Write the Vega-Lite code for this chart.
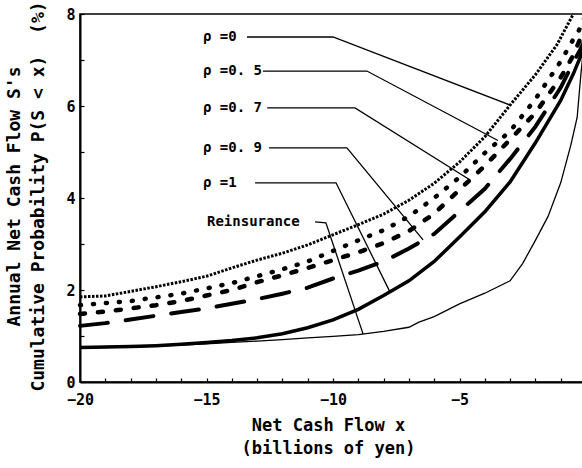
{
  "$schema": "https://vega.github.io/schema/vega-lite/v6.json",
  "autosize": "none",
  "padding": {"left": 80, "top": 14, "right": 0, "bottom": 86},
  "width": 506,
  "height": 368,
  "background": "white",
  "config": {
    "view": {"stroke": "black", "strokeWidth": 1.5},
    "font": "DejaVu Sans Mono"
  },
  "datasets": {
    "curves": [
      {"series": "r0", "x": -20, "y": 1.85}, {"series": "r0", "x": -19, "y": 1.87}, {"series": "r0", "x": -18, "y": 1.97}, {"series": "r0", "x": -17, "y": 2.07}, {"series": "r0", "x": -16, "y": 2.18}, {"series": "r0", "x": -15, "y": 2.3}, {"series": "r0", "x": -14, "y": 2.48}, {"series": "r0", "x": -13, "y": 2.65}, {"series": "r0", "x": -12, "y": 2.8}, {"series": "r0", "x": -11, "y": 2.98}, {"series": "r0", "x": -10, "y": 3.2}, {"series": "r0", "x": -9, "y": 3.42}, {"series": "r0", "x": -8, "y": 3.65}, {"series": "r0", "x": -7, "y": 3.95}, {"series": "r0", "x": -6, "y": 4.32}, {"series": "r0", "x": -5, "y": 4.78}, {"series": "r0", "x": -4, "y": 5.33}, {"series": "r0", "x": -3, "y": 6.02}, {"series": "r0", "x": -2, "y": 6.68}, {"series": "r0", "x": -1.15, "y": 7.33}, {"series": "r0", "x": -0.5, "y": 8.0},
      {"series": "r05", "x": -20, "y": 1.67}, {"series": "r05", "x": -18, "y": 1.76}, {"series": "r05", "x": -16, "y": 1.92}, {"series": "r05", "x": -14, "y": 2.15}, {"series": "r05", "x": -13, "y": 2.3}, {"series": "r05", "x": -12, "y": 2.45}, {"series": "r05", "x": -11, "y": 2.62}, {"series": "r05", "x": -10, "y": 2.85}, {"series": "r05", "x": -9, "y": 3.08}, {"series": "r05", "x": -8, "y": 3.3}, {"series": "r05", "x": -7, "y": 3.6}, {"series": "r05", "x": -6, "y": 4.0}, {"series": "r05", "x": -5, "y": 4.45}, {"series": "r05", "x": -4, "y": 4.98}, {"series": "r05", "x": -3, "y": 5.45}, {"series": "r05", "x": -2, "y": 6.15}, {"series": "r05", "x": -1, "y": 6.97}, {"series": "r05", "x": -0.5, "y": 7.45}, {"series": "r05", "x": -0.3, "y": 7.62}, {"series": "r05", "x": 0, "y": 8.0},
      {"series": "r07", "x": -20, "y": 1.48}, {"series": "r07", "x": -19, "y": 1.53}, {"series": "r07", "x": -18, "y": 1.6}, {"series": "r07", "x": -17, "y": 1.67}, {"series": "r07", "x": -16, "y": 1.76}, {"series": "r07", "x": -15, "y": 1.88}, {"series": "r07", "x": -14, "y": 2.0}, {"series": "r07", "x": -13, "y": 2.17}, {"series": "r07", "x": -12, "y": 2.32}, {"series": "r07", "x": -11, "y": 2.48}, {"series": "r07", "x": -10, "y": 2.65}, {"series": "r07", "x": -9, "y": 2.82}, {"series": "r07", "x": -8, "y": 3.02}, {"series": "r07", "x": -7, "y": 3.28}, {"series": "r07", "x": -6, "y": 3.66}, {"series": "r07", "x": -5, "y": 4.18}, {"series": "r07", "x": -4, "y": 4.7}, {"series": "r07", "x": -3, "y": 5.27}, {"series": "r07", "x": -2, "y": 5.85}, {"series": "r07", "x": -1, "y": 6.62}, {"series": "r07", "x": -0.5, "y": 7.1}, {"series": "r07", "x": -0.2, "y": 7.5}, {"series": "r07", "x": 0, "y": 7.8},
      {"series": "r09", "x": -20, "y": 1.22}, {"series": "r09", "x": -19, "y": 1.28}, {"series": "r09", "x": -18, "y": 1.36}, {"series": "r09", "x": -17, "y": 1.44}, {"series": "r09", "x": -16, "y": 1.52}, {"series": "r09", "x": -15, "y": 1.6}, {"series": "r09", "x": -14, "y": 1.7}, {"series": "r09", "x": -13, "y": 1.8}, {"series": "r09", "x": -12, "y": 1.92}, {"series": "r09", "x": -11, "y": 2.05}, {"series": "r09", "x": -10, "y": 2.25}, {"series": "r09", "x": -9, "y": 2.42}, {"series": "r09", "x": -8, "y": 2.62}, {"series": "r09", "x": -7, "y": 2.9}, {"series": "r09", "x": -6, "y": 3.22}, {"series": "r09", "x": -5, "y": 3.71}, {"series": "r09", "x": -4, "y": 4.2}, {"series": "r09", "x": -3, "y": 4.85}, {"series": "r09", "x": -2, "y": 5.55}, {"series": "r09", "x": -1, "y": 6.4}, {"series": "r09", "x": -0.5, "y": 6.95}, {"series": "r09", "x": -0.2, "y": 7.25}, {"series": "r09", "x": 0, "y": 7.5},
      {"series": "r1", "x": -20, "y": 0.75}, {"series": "r1", "x": -19, "y": 0.76}, {"series": "r1", "x": -18, "y": 0.77}, {"series": "r1", "x": -17, "y": 0.79}, {"series": "r1", "x": -16, "y": 0.82}, {"series": "r1", "x": -15, "y": 0.86}, {"series": "r1", "x": -14, "y": 0.9}, {"series": "r1", "x": -13, "y": 0.96}, {"series": "r1", "x": -12, "y": 1.05}, {"series": "r1", "x": -11, "y": 1.18}, {"series": "r1", "x": -10, "y": 1.35}, {"series": "r1", "x": -9, "y": 1.58}, {"series": "r1", "x": -8, "y": 1.88}, {"series": "r1", "x": -7, "y": 2.2}, {"series": "r1", "x": -6, "y": 2.62}, {"series": "r1", "x": -5, "y": 3.15}, {"series": "r1", "x": -4, "y": 3.7}, {"series": "r1", "x": -3, "y": 4.35}, {"series": "r1", "x": -2, "y": 5.2}, {"series": "r1", "x": -1, "y": 6.12}, {"series": "r1", "x": -0.5, "y": 6.7}, {"series": "r1", "x": -0.2, "y": 7.1}, {"series": "r1", "x": 0, "y": 7.4},
      {"series": "re", "x": -20, "y": 0.74}, {"series": "re", "x": -18, "y": 0.76}, {"series": "re", "x": -16, "y": 0.8}, {"series": "re", "x": -15, "y": 0.83}, {"series": "re", "x": -14, "y": 0.86}, {"series": "re", "x": -13, "y": 0.89}, {"series": "re", "x": -12, "y": 0.92}, {"series": "re", "x": -11, "y": 0.96}, {"series": "re", "x": -10, "y": 0.99}, {"series": "re", "x": -9, "y": 1.03}, {"series": "re", "x": -8, "y": 1.1}, {"series": "re", "x": -7, "y": 1.19}, {"series": "re", "x": -6.6, "y": 1.3}, {"series": "re", "x": -6, "y": 1.42}, {"series": "re", "x": -5, "y": 1.7}, {"series": "re", "x": -4, "y": 1.93}, {"series": "re", "x": -3, "y": 2.2}, {"series": "re", "x": -2.5, "y": 2.58}, {"series": "re", "x": -2, "y": 3.08}, {"series": "re", "x": -1.5, "y": 3.6}, {"series": "re", "x": -1, "y": 4.33}, {"series": "re", "x": -0.6, "y": 5.15}, {"series": "re", "x": -0.35, "y": 5.75}, {"series": "re", "x": -0.2, "y": 6.7}, {"series": "re", "x": 0, "y": 7.8}
    ],
    "leaders": [
      {"id": "L1", "o": 0, "x": -13.4, "y": 7.5}, {"id": "L1", "o": 1, "x": -10.0, "y": 7.5}, {"id": "L1", "o": 2, "x": -3.0, "y": 6.02},
      {"id": "L2", "o": 0, "x": -12.77, "y": 6.76}, {"id": "L2", "o": 1, "x": -8.66, "y": 6.76}, {"id": "L2", "o": 2, "x": -3.48, "y": 5.25},
      {"id": "L3", "o": 0, "x": -12.6, "y": 5.96}, {"id": "L3", "o": 1, "x": -9.13, "y": 5.96}, {"id": "L3", "o": 2, "x": -4.58, "y": 4.39},
      {"id": "L4", "o": 0, "x": -12.53, "y": 5.09}, {"id": "L4", "o": 1, "x": -9.45, "y": 5.09}, {"id": "L4", "o": 2, "x": -6.44, "y": 3.09},
      {"id": "L5", "o": 0, "x": -13.08, "y": 4.33}, {"id": "L5", "o": 1, "x": -9.88, "y": 4.33}, {"id": "L5", "o": 2, "x": -7.75, "y": 1.96},
      {"id": "L6", "o": 0, "x": -10.71, "y": 3.48}, {"id": "L6", "o": 1, "x": -10.28, "y": 3.46}, {"id": "L6", "o": 2, "x": -8.81, "y": 1.04}
    ],
    "labels": [
      {"x": -15.14, "y": 7.5, "text": "ρ =0"},
      {"x": -15.14, "y": 6.76, "text": "ρ =0. 5"},
      {"x": -15.14, "y": 5.96, "text": "ρ =0. 7"},
      {"x": -15.14, "y": 5.09, "text": "ρ =0. 9"},
      {"x": -15.14, "y": 4.33, "text": "ρ =1"},
      {"x": -14.98, "y": 3.48, "text": "Reinsurance"}
    ]
  },
  "encoding": {
    "x": {
      "field": "x", "type": "quantitative",
      "scale": {"domain": [-20, 0], "nice": false, "zero": false},
      "axis": {
        "values": [-20,-19,-18,-17,-16,-15,-14,-13,-12,-11,-10,-9,-8,-7,-6,-5,-4,-3,-2,-1,0],
        "labelExpr": "datum.value % 5 === 0 ? datum.label : ''",
        "grid": false,
        "domainColor": "black", "domainWidth": 2,
        "tickColor": "black", "tickSize": -4, "tickWidth": 1.2,
        "labelColor": "black", "labelFont": "DejaVu Sans Mono", "labelFontWeight": "bold", "labelFontSize": 15,
        "labelPadding": 14, "labelFlush": false, "labelOverlap": false,
        "title": ["Net Cash Flow x", "(billions of yen)"],
        "titleFont": "DejaVu Sans Mono", "titleFontWeight": "bold", "titleFontSize": 17, "titleColor": "black",
        "titleLineHeight": 23, "titleBaseline": "top", "titleX": 248, "titleY": 35, "titleAlign": "center"
      }
    },
    "y": {
      "field": "y", "type": "quantitative",
      "scale": {"domain": [0, 8], "nice": false},
      "axis": {
        "values": [0,1,2,3,4,5,6,7,8],
        "labelExpr": "datum.value % 2 === 0 ? datum.label : ''",
        "grid": false,
        "domainColor": "black", "domainWidth": 2,
        "tickColor": "black", "tickSize": -4, "tickWidth": 1.2,
        "labelColor": "black", "labelFont": "DejaVu Sans Mono", "labelFontWeight": "bold", "labelFontSize": 15,
        "labelPadding": 9, "labelFlush": false, "labelOverlap": false,
        "title": ["Annual Net Cash Flow S's", "Cumulative Probability P(S < x)\u00a0\u00a0(%)"],
        "titleFont": "DejaVu Sans Mono", "titleFontWeight": "bold", "titleFontSize": 18, "titleColor": "black",
        "titleAngle": -90, "titleLineHeight": 24, "titleBaseline": "top", "titleAlign": "center",
        "titleX": -75, "titleY": 182
      }
    }
  },
  "layer": [
    {
      "data": {"name": "curves"},
      "transform": [{"filter": "datum.series === 're'"}],
      "mark": {"type": "line", "color": "black", "strokeWidth": 1.3},
      "encoding": {"order": {"field": "x", "type": "quantitative"}}
    },
    {
      "data": {"name": "curves"},
      "transform": [{"filter": "datum.series === 'r1'"}],
      "mark": {"type": "line", "color": "black", "strokeWidth": 3.5},
      "encoding": {"order": {"field": "x", "type": "quantitative"}}
    },
    {
      "data": {"name": "curves"},
      "transform": [{"filter": "datum.series === 'r09'"}],
      "mark": {"type": "line", "color": "black", "strokeWidth": 4, "strokeDash": [28, 18], "strokeCap": "round"},
      "encoding": {"order": {"field": "x", "type": "quantitative"}}
    },
    {
      "data": {"name": "curves"},
      "transform": [{"filter": "datum.series === 'r07'"}],
      "mark": {"type": "line", "color": "black", "strokeWidth": 4.5, "strokeDash": [5, 13], "strokeCap": "round"},
      "encoding": {"order": {"field": "x", "type": "quantitative"}}
    },
    {
      "data": {"name": "curves"},
      "transform": [{"filter": "datum.series === 'r05'"}],
      "mark": {"type": "line", "color": "black", "strokeWidth": 4.5, "strokeDash": [1, 12], "strokeCap": "round"},
      "encoding": {"order": {"field": "x", "type": "quantitative"}}
    },
    {
      "data": {"name": "curves"},
      "transform": [{"filter": "datum.series === 'r0'"}],
      "mark": {"type": "line", "color": "black", "strokeWidth": 3, "strokeDash": [2.5, 1.5]},
      "encoding": {"order": {"field": "x", "type": "quantitative"}}
    },
    {
      "data": {"name": "leaders"},
      "mark": {"type": "line", "color": "black", "strokeWidth": 1.3},
      "encoding": {
        "detail": {"field": "id"},
        "order": {"field": "o", "type": "quantitative"}
      }
    },
    {
      "data": {"name": "labels"},
      "mark": {"type": "text", "align": "left", "baseline": "middle", "font": "DejaVu Sans Mono", "fontWeight": "bold", "fontSize": 14, "color": "black"},
      "encoding": {"text": {"field": "text"}}
    }
  ]
}
